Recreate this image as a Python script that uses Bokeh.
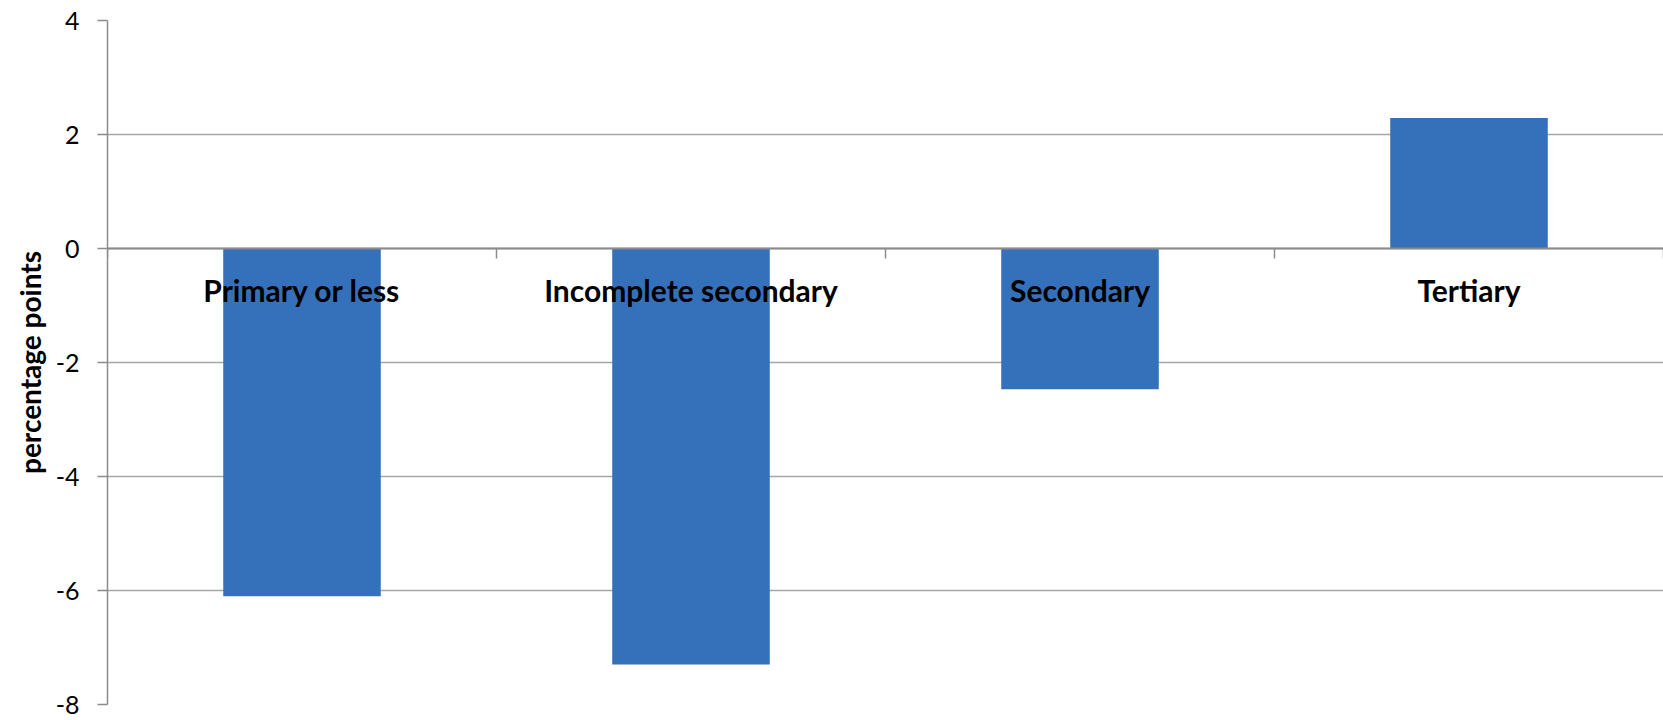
from bokeh.plotting import figure
from bokeh.models import FixedTicker, Range1d, ColumnDataSource
from bokeh.core.properties import value
from bokeh.embed import file_html
from bokeh.resources import INLINE

categories = ["Primary or less", "Incomplete secondary", "Secondary", "Tertiary"]
values = [-6.1, -7.3, -2.47, 2.29]
y_ticks = [-8, -6, -4, -2, 0, 2, 4]
y_tick_labels = ["-8", "-6", "-4", "-2", "0", "2", "4"]

xs = [i + 0.5 for i in range(len(categories))]
bounds = list(range(len(categories) + 1))

p = figure(width=1663, height=720, output_backend="svg", toolbar_location=None,
           x_range=Range1d(0, len(categories)), y_range=Range1d(-8, 4),
           min_border_left=107, min_border_right=0, min_border_top=20, min_border_bottom=16)
p.outline_line_color = None
p.background_fill_color = "white"
p.border_fill_color = "white"

src = ColumnDataSource(dict(x=xs, top=values, label=categories))
p.vbar(x="x", top="top", bottom=0, width=0.405, source=src,
       fill_color="#3571ba", line_color=None)
p.text(x="x", y=0, text="label", source=src, y_offset=41,
       text_align="center", text_baseline="middle",
       text_font=value("Lato"), text_font_style="bold", text_font_size="30px",
       text_color="black")

# y axis
p.yaxis.ticker = FixedTicker(ticks=y_ticks)
p.yaxis.major_label_overrides = {t: s for t, s in zip(y_ticks, y_tick_labels)}
p.yaxis.axis_label = "percentage points"
p.yaxis.axis_label_text_font = "Lato"
p.yaxis.axis_label_text_font_style = "bold"
p.yaxis.axis_label_text_font_size = "28px"
p.yaxis.axis_label_text_color = "black"
p.yaxis.axis_label_standoff = 6
p.yaxis.major_label_text_font = "Lato"
p.yaxis.major_label_text_font_size = "25px"
p.yaxis.major_label_text_color = "black"
p.yaxis.major_label_standoff = 18
p.yaxis.axis_line_color = "#8c8c8c"
p.yaxis.axis_line_width = 1.5
p.yaxis.major_tick_line_color = "#8c8c8c"
p.yaxis.major_tick_line_width = 1.5
p.yaxis.major_tick_out = 10
p.yaxis.major_tick_in = 0
p.yaxis.minor_tick_line_color = None

# x axis at zero with ticks on category boundaries
p.xaxis.fixed_location = 0
p.xaxis.ticker = FixedTicker(ticks=bounds)
p.xaxis.major_label_overrides = {b: "" for b in bounds}
p.xaxis.major_label_standoff = 0
p.xaxis.axis_line_color = "#8c8c8c"
p.xaxis.axis_line_width = 2
p.xaxis.major_tick_line_color = "#8c8c8c"
p.xaxis.major_tick_line_width = 1.5
p.xaxis.major_tick_out = 10
p.xaxis.major_tick_in = 0
p.xaxis.minor_tick_line_color = None

p.xgrid.grid_line_color = None
p.ygrid.ticker = FixedTicker(ticks=y_ticks)
p.ygrid.grid_line_color = "#a6a6a6"
p.ygrid.grid_line_width = 1.5

open("out.html", "w").write(file_html(p, INLINE))
